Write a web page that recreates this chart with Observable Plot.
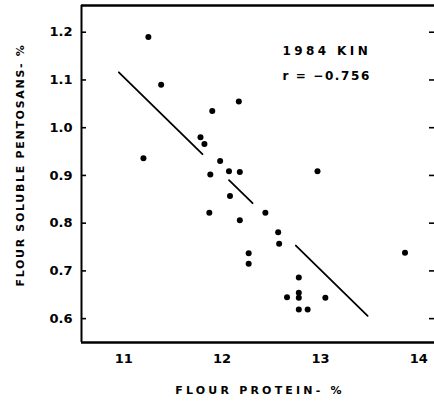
<!DOCTYPE html>
<html>
<head>
<meta charset="utf-8">
<script src="https://cdn.jsdelivr.net/npm/d3@7"></script>
<script src="https://cdn.jsdelivr.net/npm/@observablehq/plot@0.6"></script>
<style>
  html, body { margin: 0; padding: 0; background: #fff; }
  #chart svg { display: block; }
</style>
</head>
<body>
<div id="chart"></div>
<script>
// 1984 Kin samples: flour protein (%) vs. flour soluble pentosans (%)
const protein = [11.25, 11.38, 11.90, 12.17, 11.78, 11.82, 11.20, 11.98, 11.88, 12.07,
                 12.18, 12.97, 12.08, 11.87, 12.18, 12.44, 12.57, 12.58, 12.27, 12.27,
                 13.86, 12.78, 12.66, 12.78, 12.78, 13.05, 12.78, 12.87];
const pentosans = [1.190, 1.090, 1.035, 1.055, 0.980, 0.966, 0.936, 0.930, 0.902, 0.909,
                   0.907, 0.909, 0.857, 0.822, 0.806, 0.822, 0.781, 0.757, 0.737, 0.715,
                   0.738, 0.686, 0.645, 0.654, 0.644, 0.644, 0.619, 0.619];

// Regression line, drawn as three broken pieces
const fitIntercept = 1.116;   // value at protein = fitOrigin
const fitOrigin = 10.95;
const fitSlope = -0.2016;
const fitPieces = [[10.95, 11.80], [12.07, 12.31], [12.75, 13.48]];

const xTicks = [11, 12, 13, 14];
const yTicks = [0.6, 0.7, 0.8, 0.9, 1.0, 1.1, 1.2];
const xDomain = [10.57, 14.16];
const yDomain = [0.550, 1.256];

const xTitle = "FLOUR PROTEIN- %";
const yTitle = "FLOUR SOLUBLE PENTOSANS- %";
const noteLines = ["1984 KIN", "r = \u22120.756"];

const points = protein.map((p, i) => ({protein: p, pentosans: pentosans[i]}));
const fit = fitPieces.flatMap((piece, k) =>
  piece.map(x => ({piece: k, protein: x, pentosans: fitIntercept + fitSlope * (x - fitOrigin)})));

const width = 434, height = 405;
const mL = 81, mR = 0, mT = 5, mB = 63;
const innerW = width - mL - mR;

const chart = Plot.plot({
  width, height,
  marginLeft: mL, marginRight: mR, marginTop: mT, marginBottom: mB,
  style: {fontFamily: "'DejaVu Sans', sans-serif", fontWeight: "bold", fontSize: "13px", color: "#000", background: "#fff"},
  x: {domain: xDomain},
  y: {domain: yDomain},
  marks: [
    // frame: left, top and bottom edges
    Plot.ruleX([xDomain[0]], {stroke: "#000", strokeWidth: 2}),
    Plot.ruleY([yDomain[1]], {stroke: "#000", strokeWidth: 2.5}),
    Plot.ruleY([yDomain[0]], {stroke: "#000", strokeWidth: 2.5}),
    // inward ticks on both sides
    Plot.tickY(yTicks, {y: d => d, stroke: "#000", strokeWidth: 1.6, insetRight: innerW - 5}),
    Plot.tickY(yTicks, {y: d => d, stroke: "#000", strokeWidth: 1.6, insetLeft: innerW - 5}),
    Plot.axisY(yTicks, {anchor: "left", tickSize: 0, tickPadding: 9, tickFormat: d3.format(".1f"),
                        label: null, fontWeight: "bold", fontSize: 13}),
    Plot.axisX(xTicks, {anchor: "bottom", tickSize: 0, tickPadding: 11, tickFormat: d => String(d),
                        label: null, fontWeight: "bold", fontSize: 13}),
    // axis titles
    Plot.text([yTitle], {text: d => d, frameAnchor: "left", textAnchor: "middle", dx: -61, dy: -9, rotate: -90,
                         fontSize: 11, fontWeight: "bold"}),
    Plot.text([xTitle], {text: d => d, frameAnchor: "bottom", textAnchor: "middle", dx: 2, dy: 51,
                         fontSize: 11, fontWeight: "bold"}),
    // annotation
    Plot.text([noteLines[0]], {text: d => d, frameAnchor: "top-left", dx: 201, dy: 41, textAnchor: "start",
                               fontSize: 12, fontWeight: "bold"}),
    Plot.text([noteLines[1]], {text: d => d, frameAnchor: "top-left", dx: 201, dy: 66, textAnchor: "start",
                               fontSize: 12, fontWeight: "bold"}),
    // fitted line
    Plot.line(fit, {x: "protein", y: "pentosans", z: "piece", stroke: "#000", strokeWidth: 1.8}),
    // samples
    Plot.dot(points, {x: "protein", y: "pentosans", r: 3, fill: "#000", stroke: "none"})
  ]
});

// wide, stencil-like lettering spacing for the titles and note
const spacing = new Map([
  [yTitle, "1.7px"], [xTitle, "3.2px"], [noteLines[0], "3.4px"], [noteLines[1], "1.6px"]
]);
d3.select(chart).selectAll("text").each(function() {
  const s = spacing.get(this.textContent);
  if (s) this.setAttribute("letter-spacing", s);
});

document.getElementById("chart").appendChild(chart);
</script>
</body>
</html>
